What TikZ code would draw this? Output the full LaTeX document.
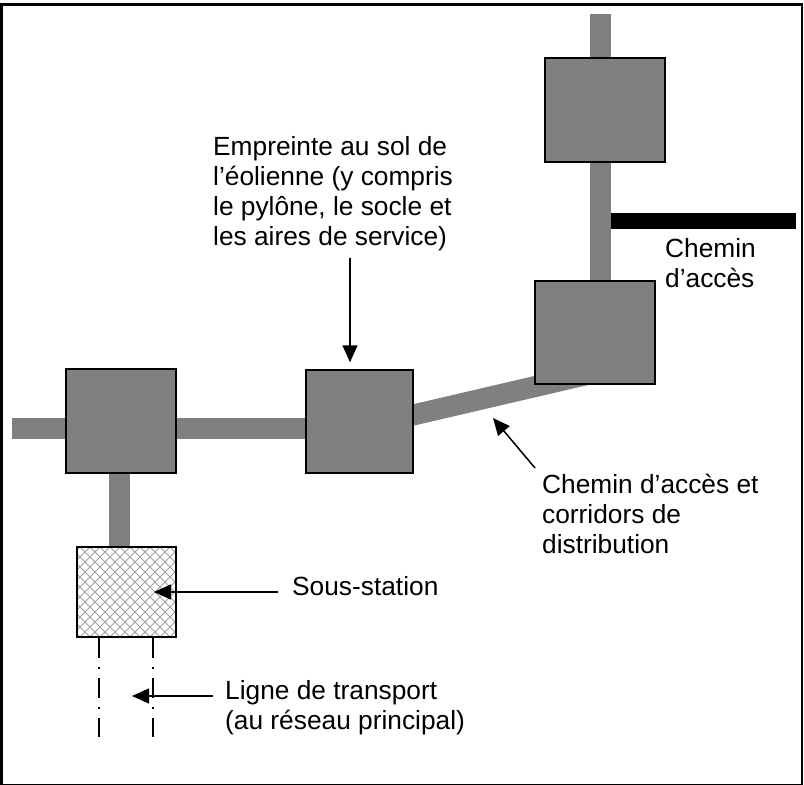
\documentclass[tikz,border=0pt]{standalone}
\usepackage{fontspec}
\setmainfont{Liberation Sans}
\usetikzlibrary{arrows.meta,backgrounds}

\definecolor{padgray}{HTML}{808080}
\definecolor{hatchgray}{HTML}{A0A0A0}

\tikzset{
  pad/.style={rectangle, draw=black, line width=1.5pt, fill=padgray, inner sep=0pt},
  substation/.style={rectangle, draw=black, line width=1.5pt, inner sep=0pt},
  road/.style={draw=padgray, line width=21pt},
  access/.style={draw=black, line width=16pt},
  hatch/.style={draw=hatchgray, line width=1pt},
  powerline/.style={line width=2pt, dash pattern=on 20pt off 9pt on 2pt off 9pt},
  pointer/.style={-{Triangle[length=17pt,width=15pt]}, line width=1.5pt},
  note/.style={align=left, inner sep=0pt, font=\fontsize{26.3pt}{30pt}\selectfont}
}

\begin{document}
\begin{tikzpicture}[x=1pt,y=-1pt]
        \useasboundingbox (0,0) rectangle (804,785);
        \draw[line width=2.5pt] (1.3,4.3) rectangle (802,785.5);

        % turbine pads
        \node[pad, minimum width=110pt, minimum height=104pt] (pad-west) at (121,421) {};
        \node[pad, minimum width=107pt, minimum height=103pt] (pad-mid) at (359.5,421.5) {};
        \node[pad, minimum width=120pt, minimum height=103pt] (pad-east) at (595,332.5) {};
        \node[pad, minimum width=120pt, minimum height=104pt] (pad-north) at (605,110) {};
        \node[substation, minimum width=99pt, minimum height=90pt] (substation) at (126.5,592) {};

        \coordinate (road-end) at (12,428.5);
        \coordinate (diag-start) at (390,420.4);
        \coordinate (diag-end) at (610,369.1);
        \coordinate (north-end) at (600,14);
        \coordinate (feed-top) at (119.5,421);
        \coordinate (access-start) at (611,221);
        \coordinate (access-end) at (796,221);
        \coordinate (line-left) at (99,737);
        \coordinate (line-right) at (153,737);

        \begin{scope}[on background layer]
          \draw[road] (road-end) -- (road-end -| pad-mid.center);
          \draw[road] (diag-start) -- (diag-end);
          \draw[road] (north-end) -- (north-end |- pad-east.center);
          \draw[road] (feed-top) -- (feed-top |- substation.north);
          \clip (substation.south west) rectangle (substation.north east);
          \foreach \d in {-20,-10,...,270}{
            \draw[hatch] (\d,547) -- ++(100,100);
            \draw[hatch] (\d,547) -- ++(-100,100);
          }
        \end{scope}

        \draw[access] (access-start) -- (access-end);

        \draw[powerline] (line-left |- substation.south) -- (line-left);
        \draw[powerline] (line-right |- substation.south) -- (line-right);

        % labels
        \node[note, anchor=north west] (footprint) at (213,136) {Empreinte au sol de\\l’éolienne (y compris\\le pylône, le socle et\\les aires de service)};
        \node[note, anchor=north west] (access-text) at (665,238) {Chemin\\d’accès};
        \node[note, anchor=north west] (corridor) at (542,474) {Chemin d’accès et\\corridors de\\distribution};
        \node[note, anchor=base west] (sub-text) at (292,595) {Sous-station};
        \node[note, anchor=north west] (line-text) at (225,680) {Ligne de transport\\(au réseau principal)};

        \coordinate (footprint-tail) at (350,258);
        \coordinate (corridor-tail) at (535,468);
        \coordinate (corridor-tip) at (493,418);
        \coordinate (sub-tail) at (278,592);
        \coordinate (sub-tip) at (154,592);
        \coordinate (line-tail) at (213,696);
        \coordinate (line-tip) at (132,696);

        \draw[pointer, shorten >=7pt] (footprint-tail) -- (footprint-tail |- pad-mid.north);
        \draw[pointer] (corridor-tail) -- (corridor-tip);
        \draw[pointer] (sub-tail) -- (sub-tip);
        \draw[pointer] (line-tail) -- (line-tip);

\end{tikzpicture}
\end{document}
